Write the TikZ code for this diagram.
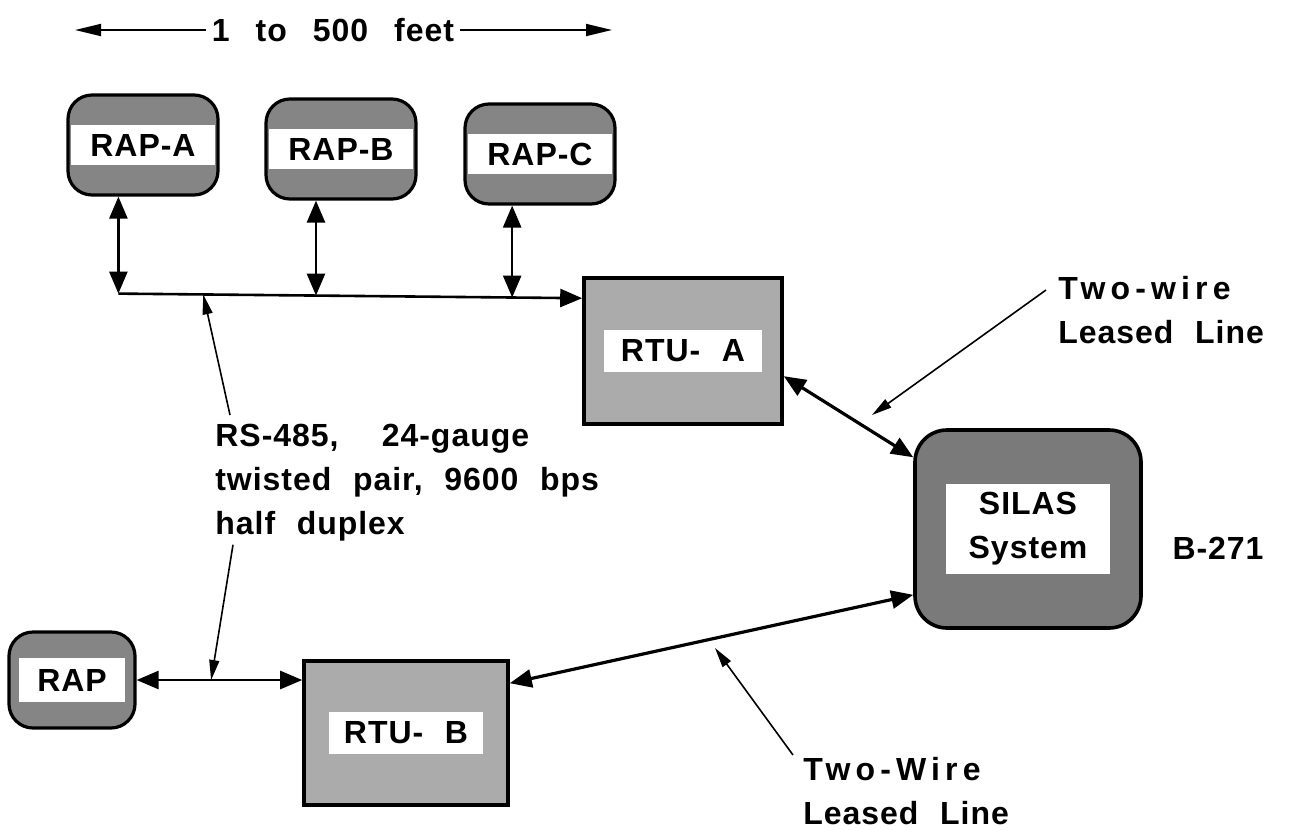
\documentclass[tikz,border=0pt]{standalone}
\usepackage{fontspec}
\setmainfont{Liberation Sans}[LetterSpace=3,WordSpace=2.2]
\usetikzlibrary{arrows.meta,calc,positioning}

\tikzset{
  band/.style 2 args={path picture={\fill[white, sharp corners]
      ($(path picture bounding box.west)+(#1,-#2)$) rectangle
      ($(path picture bounding box.east)+(-#1,#2)$);}},
  rapbox/.style={draw, line width=1.6bp, rounded corners=12bp, fill=black!48,
      minimum width=75bp, minimum height=50bp, band={3}{20}},
  rtubox/.style={draw, line width=1.8bp, fill=black!33,
      minimum width=99bp, minimum height=73bp},
  dbl/.style={line width=1.3bp,
      {Triangle[length=11bp,width=9bp]}-{Triangle[length=11bp,width=9bp]}},
  bus/.style={line width=1.3bp, -{Triangle[length=11bp,width=9bp]}},
  lead/.style={line width=0.8bp, -{Triangle[length=10bp,width=5bp]}},
  spanarrow/.style={line width=0.9bp, -{Triangle[length=13bp,width=6bp]}},
}

\begin{document}
\begin{tikzpicture}[x=0.5bp, y=-0.5bp, font=\fontsize{16bp}{22bp}\selectfont\bfseries]
\useasboundingbox (0,0) rectangle (1305,829);

\node[inner xsep=3bp] (span) at (333,30) {\spaceskip=13bp 1 to 500 feet};
\coordinate (spanL) at (75,30);
\coordinate (spanR) at (612,30);
\draw[spanarrow] (span.west) -- (spanL);
\draw[spanarrow] (span.east) -- (spanR);

\node[rapbox] (rapA) at (143,145) {RAP-A};
\node[rapbox] (rapB) at (341,149) {RAP-B};
\node[rapbox] (rapC) at (540,154) {RAP-C};
\node[rtubox, band={20}{21}] (rtuA) at (683,351) {RTU- A};
\node[rtubox, minimum width=102bp, minimum height=72bp, band={25}{21}] (rtuB) at (406,733) {RTU- B};
\node[draw, line width=1.8bp, rounded corners=16bp, fill=black!52,
      minimum width=113bp, minimum height=99bp, band={31}{45}, align=center] (silas) at (1028,529) {SILAS\\System};
\node[rapbox, minimum width=63bp, minimum height=48bp, band={10}{22}] (rap) at (72,680) {RAP};

\node (b271) at (1218,548) {B-271};
\node[anchor=north west, inner sep=0pt, align=left] (rs) at (215,424)
     {RS-485,\ \ 24-gauge\\twisted pair, 9600 bps\\half duplex};
\node[anchor=north west, inner sep=0pt, align=left] (twA) at (1058,276)
     {{\addfontfeature{LetterSpace=16}Two-wire}\\Leased Line};
\node[anchor=north west, inner sep=0pt, align=left] (twB) at (803,757)
     {{\addfontfeature{LetterSpace=16}Two-Wire}\\Leased Line};

% RS-485 bus
\coordinate (busA) at ($(rapA.south west)+(52,97)$);
\draw[bus] (busA) -- coordinate[pos=.183] (busX) coordinate[pos=.426] (busB)
      coordinate[pos=.849] (busC) ($(rtuA.north west)+(0,22)$);
\draw[dbl] (rapA.south -| busA) -- (busA);
\draw[dbl] (rapB.south -| busB) -- (busB);
\draw[dbl] (rapC.south -| busC) -- (busC);
\draw[dbl] (rap.east) -- coordinate[pos=.45] (lineX) (rtuB.west |- rap.east);

% leased lines
\draw[dbl, line width=1.6bp] ($(rtuA.north east)+(0,100)$) -- (silas);
\draw[dbl, line width=1.6bp] ($(rtuB.north east)+(0,24)$) -- ($(silas.south west)+(0,-35)$);

% labels
\coordinate (twTipA) at (872,415);
\coordinate (twTipB) at (715,648);
\draw[lead] ($(rs.north west)+(15,-9)$) -- (busX);
\draw[lead] ($(rs.south west)+(18,3)$) -- (lineX);
\draw[lead] ($(twA.north west)+(-12,14)$) -- (twTipA);
\draw[lead] ($(twB.north west)+(-10,-2)$) -- (twTipB);
\end{tikzpicture}
\end{document}
